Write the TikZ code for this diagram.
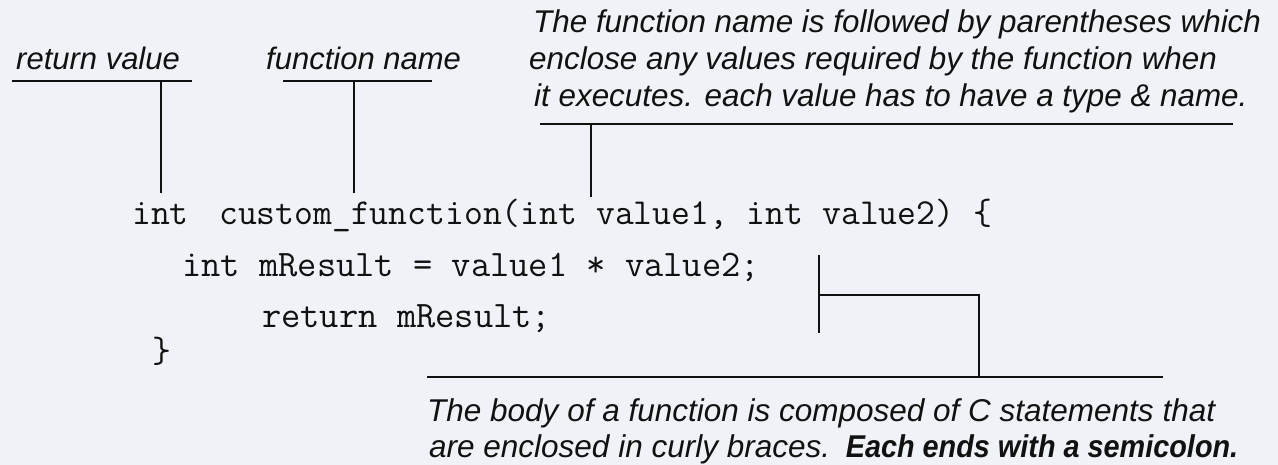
\documentclass[tikz,border=0pt]{standalone}
\usepackage{fontspec}
\setmainfont{Liberation Sans}
\definecolor{bgc}{HTML}{EFF3F7}
\definecolor{ink}{HTML}{111111}
\begin{document}
\begin{tikzpicture}[x=1pt,y=1pt,
  lbl/.style={inner sep=0pt,anchor=base west,text=ink,font=\itshape\fontsize{31}{37}\selectfont},
  para/.style={inner sep=0pt,anchor=base west,text=ink,font=\itshape\fontsize{31.4}{37}\selectfont},
  btxt/.style={inner sep=0pt,anchor=base west,text=ink,font=\itshape\fontsize{31.5}{36}\selectfont},
  code/.style={inner sep=0pt,anchor=base west,text=ink,font=\ttfamily\fontsize{36.6}{44}\selectfont},
  codeb/.style={code,font=\ttfamily\fontsize{37.4}{44}\selectfont},
  rule/.style={draw=ink,line width=2.6pt}]
\fill[bgc] (0,0) rectangle (1278,465);
\useasboundingbox (0,0) rectangle (1278,465);
% labels
\node[lbl] (rv) at (16,395) {return value};
\node[lbl] (fn) at (266,395) {function name};
\node[para] (p1) at (533,432) {The function name is followed by parentheses which};
\node[para] (p2) at (529,395) {enclose any values required by the function when};
\node[para] (p3) at (534,358) {it executes. each value has to have a type \& name.};
% code
\node[code] (c1a) at (132,240) {int};
\node[code] (c1b) at (219,240) {custom\_function(int value1, int value2) \{};
\node[codeb] (c2) at (182,188) {int mResult = value1 * value2;};
\node[codeb] (c3) at (262,137) {return mResult;};
\node[code] (c4) at (152,102) {\}};
% bottom text
\node[btxt] (b1) at (427,43) {The body of a function is composed of C statements that};
\node[btxt] (b2) at (429,7) {are enclosed in curly braces.\hspace{4pt} \scalebox{0.915}[1]{\bfseries Each ends with a semicolon.}};
% coordinates
\coordinate (rvL) at (12,384); \coordinate (rvR) at (192,384);
\coordinate (rvT) at (161,384); \coordinate (rvB) at (161,272);
\coordinate (fnL) at (283,384); \coordinate (fnR) at (432,384);
\coordinate (fnT) at (354,384); \coordinate (fnB) at (354,272);
\coordinate (pL) at (540,341); \coordinate (pR) at (1233,341);
\coordinate (pT) at (591,341); \coordinate (pB) at (591,268);
\coordinate (brT) at (819,210); \coordinate (brB) at (819,132);
\coordinate (brM) at (819,170); \coordinate (brC) at (979,170);
\coordinate (bL) at (427,88); \coordinate (bR) at (1163,88); \coordinate (bM) at (979,88);
% rules
\draw[rule] (rvL) -- (rvR); \draw[rule] (rvT) -- (rvB);
\draw[rule] (fnL) -- (fnR); \draw[rule] (fnT) -- (fnB);
\draw[rule] (pL) -- (pR); \draw[rule] (pT) -- (pB);
\draw[rule] (brT) -- (brB);
\draw[rule] (brM) -- (brC) -- (bM);
\draw[rule] (bL) -- (bR);
\end{tikzpicture}
\end{document}
